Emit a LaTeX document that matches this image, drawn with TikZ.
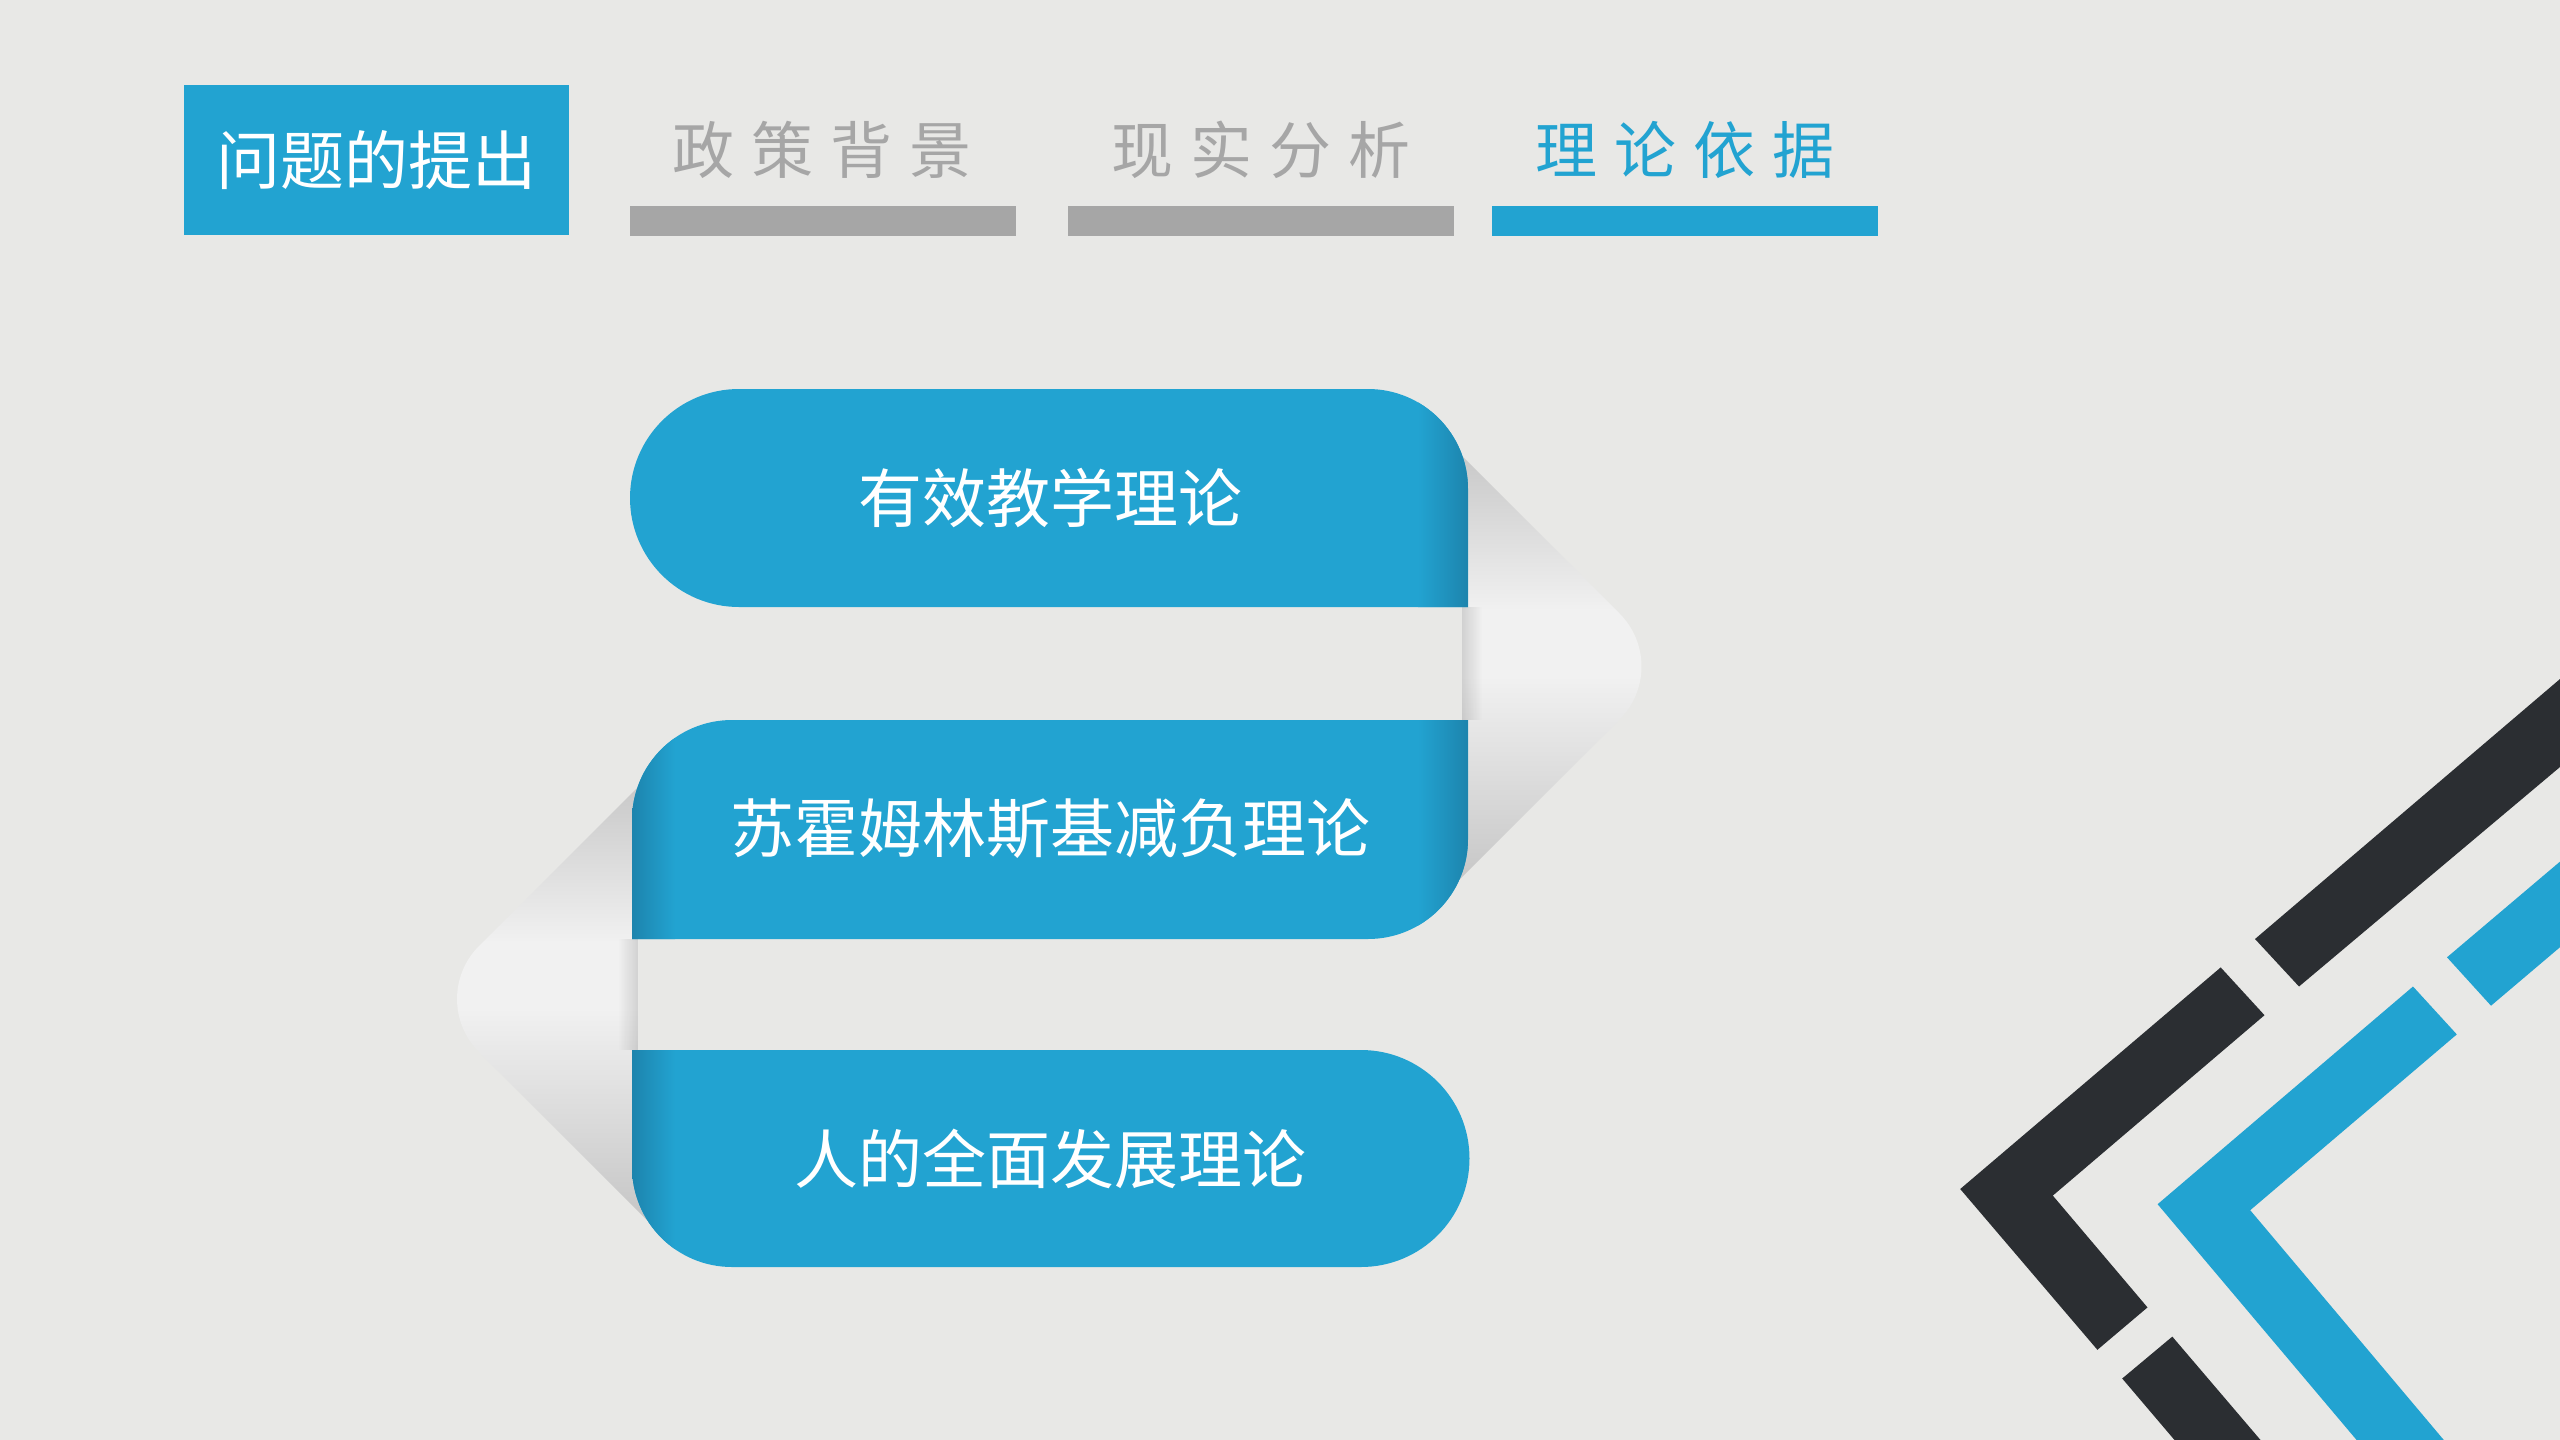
\documentclass[tikz,border=0pt]{standalone}
\usepackage{fontspec}
\setmainfont{Noto Sans CJK SC}
\usetikzlibrary{fadings}
\definecolor{bgc}{HTML}{E8E8E6}
\definecolor{blu}{HTML}{22A3D1}
\definecolor{blud}{HTML}{1D84AD}
\definecolor{gbar}{HTML}{A6A6A6}
\definecolor{dk}{HTML}{2B2E32}
\definecolor{fgray}{HTML}{C3C3C3}
\definecolor{flight}{HTML}{F1F1F1}
\pgfdeclareverticalshading{foldsh}{100bp}{color(0bp)=(fgray); color(25bp)=(fgray); color(49bp)=(flight); color(56bp)=(flight); color(75bp)=(fgray); color(100bp)=(fgray)}
\begin{document}
\begin{tikzpicture}[x=1pt,y=-1pt,
  tabbar/.style={minimum width=386pt, minimum height=30pt, inner sep=0pt, outer sep=0pt},
  tabtxt/.style={font=\fontsize{62}{62}\selectfont, inner sep=0pt},
  piltxt/.style={font=\fontsize{64}{64}\selectfont, inner sep=0pt, text=white},
  edgeshade/.style={},
]
\fill[bgc] (0,0) rectangle (2560,1440);
\useasboundingbox (0,0) rectangle (2560,1440);

% ---- tabs ----
\node[fill=blu, minimum width=385pt, minimum height=150pt, inner sep=0pt,
      font=\fontsize{64}{64}\selectfont, text=white] (t1) at (376.5,160) {问题的提出};
\node[tabbar, fill=gbar] (bar2) at (822.5,221) {};
\node[tabbar, fill=gbar] (bar3) at (1260.5,221) {};
\node[tabbar, fill=blu] (bar4) at (1684.5,221) {};
\node[tabtxt, text=gbar] (t2) at (822,150) {政\hspace{17pt}策\hspace{17pt}背\hspace{17pt}景};
\node[tabtxt, text=gbar] (t3) at (1261,150) {现\hspace{17pt}实\hspace{17pt}分\hspace{17pt}析};
\node[tabtxt, text=blu] (t4) at (1685,150) {理\hspace{17pt}论\hspace{17pt}依\hspace{17pt}据};

% ---- folds ----
\shade[shading=foldsh] (1440,434) -- (1619.5,613.5) .. controls (1648.8,642.8) and (1648.8,690.2) .. (1619.5,719.5)
  -- (1440,899) -- (1440,720) -- (1462,720) -- (1462,607) -- (1440,607) -- cycle;
\shade[shading=foldsh] (660,765) -- (479,946) .. controls (449.7,975.3) and (449.7,1022.7) .. (479,1052)
  -- (660,1233) -- (660,1050) -- (638,1050) -- (638,939) -- (660,939) -- cycle;
\fill[black, opacity=0.13, path fading=east] (1462,607) rectangle (1482,720);
\fill[black, opacity=0.13, path fading=west] (618,939) rectangle (638,1050);

% ---- pills ----
\fill[blu] (739,389) -- (1368,389) arc[start angle=270, end angle=360, radius=100]
  -- (1468,607) -- (739,607) arc[start angle=90, end angle=270, radius=109] -- cycle;
\begin{scope}
  \clip (739,389) -- (1368,389) arc[start angle=270, end angle=360, radius=100]
    -- (1468,607) -- (739,607) arc[start angle=90, end angle=270, radius=109] -- cycle;
  \shade[left color=blu, right color=blud] (1418,380) rectangle (1468,610);
\end{scope}

\fill[blu] (632,939) -- (632,820) arc[start angle=180, end angle=270, radius=100]
  -- (1468,720) -- (1468,839) arc[start angle=0, end angle=90, radius=100] -- cycle;
\begin{scope}
  \clip (632,939) -- (632,820) arc[start angle=180, end angle=270, radius=100]
    -- (1468,720) -- (1468,839) arc[start angle=0, end angle=90, radius=100] -- cycle;
  \shade[left color=blud, right color=blu] (632,715) rectangle (675,945);
  \shade[left color=blu, right color=blud] (1418,715) rectangle (1468,945);
\end{scope}

\fill[blu] (632,1050) -- (1361,1050) arc[start angle=270, end angle=450, radius=108.5]
  -- (732,1267) arc[start angle=90, end angle=180, radius=100] -- cycle;
\begin{scope}
  \clip (632,1050) -- (1361,1050) arc[start angle=270, end angle=450, radius=108.5]
    -- (732,1267) arc[start angle=90, end angle=180, radius=100] -- cycle;
  \shade[left color=blud, right color=blu] (632,1045) rectangle (675,1270);
\end{scope}

\node[piltxt] (p1) at (1050,498) {有效教学理论};
\node[piltxt] (p2) at (1050,829) {苏霍姆林斯基减负理论};
\node[piltxt] (p3) at (1050,1159) {人的全面发展理论};

% ---- chevrons ----
\fill[dk] (2255,939) -- (2299,986.5) -- (2560,767) -- (2560,679) -- cycle;
\fill[dk] (2220.7,967.4) -- (1960.2,1189) -- (2097.4,1349.8) -- (2147.5,1307.4)
  -- (2052.8,1195.6) -- (2264.5,1015.2) -- cycle;
\fill[dk] (2122.2,1378.5) -- (2172.3,1336.6) -- (2260.5,1440) -- (2174.5,1440) -- cycle;
\fill[blu] (2413,986.5) -- (2157.6,1204.2) -- (2356.6,1440) -- (2443.8,1440)
  -- (2250.2,1210.2) -- (2456.8,1034.4) -- cycle;
\fill[blu] (2447,957.3) -- (2491,1005.7) -- (2560,947.2) -- (2560,861.6) -- cycle;
\end{tikzpicture}
\end{document}
